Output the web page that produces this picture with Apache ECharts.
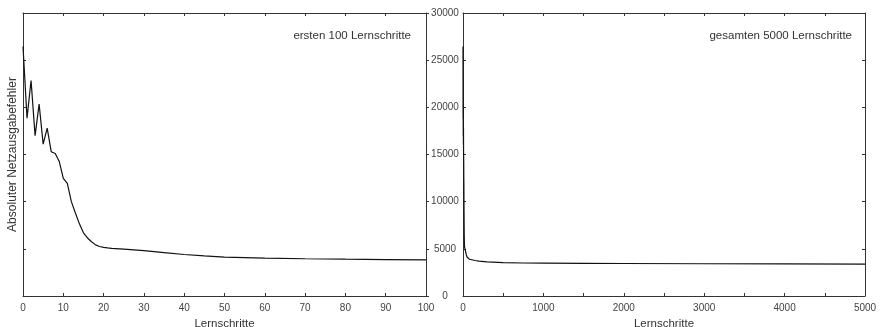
<!DOCTYPE html>
<html>
<head>
<meta charset="utf-8">
<script src="https://cdn.jsdelivr.net/npm/echarts@6/dist/echarts.min.js"></script>
<style>html,body{margin:0;padding:0;background:#fff}#c{width:880px;height:327px}</style>
</head>
<body>
<div id="c"></div>
<script>
// Lernschritte (steps) for the first 100 steps
const stepsFirst = [0,1,2,3,4,5,6,7,8,9,10,11,12,13,14,15,16,17,18,19,20,21,22,23,24,25,30,35,40,45,50,60,70,80,90,100];
const errorFirst = [26450,18850,22850,17000,20350,16100,17800,15300,15100,14250,12480,11950,10000,8800,7650,6700,6150,5750,5420,5250,5160,5100,5050,5020,4990,4960,4800,4600,4400,4260,4130,4020,3950,3900,3860,3830];
// further steps for the whole 5000 steps run
const stepsLater = [150,200,300,500,750,1000,1500,2000,3000,4000,5000];
const errorLater = [3760,3700,3620,3540,3500,3480,3460,3445,3420,3400,3385];
const yTicks = [0,5000,10000,15000,20000,25000,30000];
const labelLeft = 'ersten 100 Lernschritte';
const labelRight = 'gesamten 5000 Lernschritte';
const xName = 'Lernschritte';
const yName = 'Absoluter Netzausgabefehler';

const FONT = '"Liberation Sans", Arial, sans-serif';
const axisCol = '#333';
const txtCol = '#444';

const firstData = stepsFirst.map((s,i)=>[s, errorFirst[i]]);
const allData = firstData.concat(stepsLater.map((s,i)=>[s, errorLater[i]]));
const plain = v => String(v);

function xAx(gi, pos, max, interval, labels, minor, name) {
  return {
    type:'value', gridIndex:gi, position:pos, min:0, max:max, interval:interval,
    axisLine:{show:true, onZero:false, lineStyle:{color:axisCol, width:1}},
    axisTick:{show:true, inside:true, length:3, lineStyle:{color:axisCol}},
    minorTick:{show:minor, splitNumber:2, length:3, lineStyle:{color:axisCol}},
    axisLabel:{show:labels, margin:7, color:txtCol, fontSize:10, fontFamily:FONT, formatter:plain},
    splitLine:{show:false},
    name: name || '', nameLocation:'middle', nameGap:19,
    nameTextStyle:{color:'#333', fontSize:11.5, fontFamily:FONT}
  };
}
function yAx(gi, pos, labels, inside, name) {
  return {
    type:'value', gridIndex:gi, position:pos, min:0, max:30000, interval:5000,
    axisLine:{show:true, onZero:false, lineStyle:{color:axisCol, width:1}},
    axisTick:{show:true, inside:inside, length:3, lineStyle:{color:axisCol}},
    axisLabel:{show:labels, align:'center', margin:18, color:txtCol, fontSize:10, fontFamily:FONT,
      formatter:plain},
    splitLine:{show:false},
    name: name || '', nameLocation:'middle', nameGap:4,
    nameTextStyle:{color:'#333', fontSize:12, fontFamily:FONT}
  };
}

const chart = echarts.init(document.getElementById('c'), null, {renderer:'canvas'});
chart.setOption({
  animation:false,
  backgroundColor:'#fff',
  grid:[
    {left:23, right:454, top:13, bottom:31, containLabel:false, outerBoundsMode:'none'},
    {left:463, right:15, top:13, bottom:31, containLabel:false, outerBoundsMode:'none'}
  ],
  title:[
    {text:labelLeft, right:464, top:25, textStyle:{fontSize:11.5, fontWeight:'normal', color:'#333', fontFamily:FONT}},
    {text:labelRight, right:23, top:25, textStyle:{fontSize:11.5, fontWeight:'normal', color:'#333', fontFamily:FONT}}
  ],
  xAxis:[
    xAx(0,'bottom',100,10,true,false,xName),
    xAx(0,'top',100,10,false,false),
    xAx(1,'bottom',5000,1000,true,true,xName),
    xAx(1,'top',5000,1000,false,true)
  ],
  yAxis:[
    yAx(0,'left',false,true,yName),
    yAx(0,'right',false,false),
    yAx(1,'left',true,true),
    yAx(1,'right',false,true)
  ],
  series:[
    {type:'line', xAxisIndex:0, yAxisIndex:0, data:firstData, showSymbol:false, symbol:'none',
      lineStyle:{color:'#111', width:1.2}, clip:true},
    {type:'line', xAxisIndex:2, yAxisIndex:2, data:allData, showSymbol:false, symbol:'none',
      lineStyle:{color:'#111', width:1.2}, clip:true}
  ]
});
</script>
</body>
</html>
